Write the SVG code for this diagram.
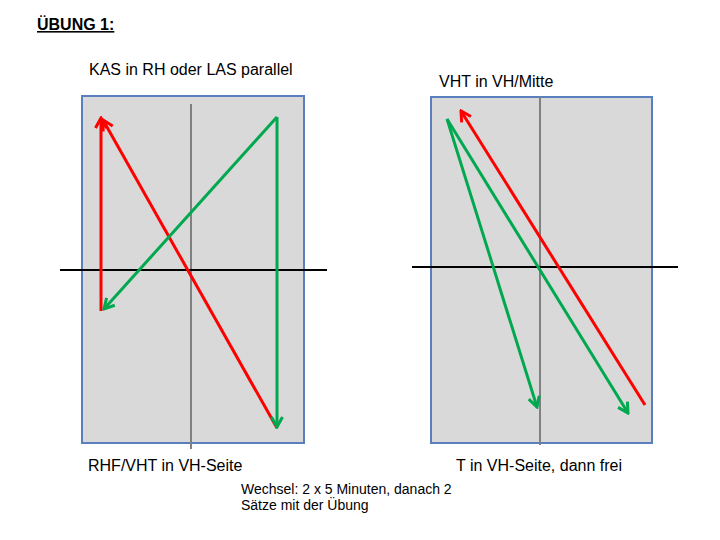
<svg xmlns="http://www.w3.org/2000/svg" width="720" height="540" viewBox="0 0 720 540">
<style>
text{font-family:"Liberation Sans",Arial,sans-serif;fill:#000}
.t{font-size:16px}
.s{font-size:14px}
.field{fill:#d9d9d9;stroke:#5a7fbe;stroke-width:2}
.axis{stroke:#808080;stroke-width:2}
.mid{stroke:#000;stroke-width:2}
.red{stroke:#ff0000;stroke-width:3;fill:none}
.green{stroke:#00a84f;stroke-width:3;fill:none}
</style>
<defs>
<marker id="ar" viewBox="0 0 14 14" refX="12" refY="7" markerWidth="14" markerHeight="14" markerUnits="userSpaceOnUse" orient="auto">
<path d="M2,1.5 L12,7 L2,12.5" fill="none" stroke="#ff0000" stroke-width="3"/>
</marker>
<marker id="ag" viewBox="0 0 14 14" refX="12" refY="7" markerWidth="14" markerHeight="14" markerUnits="userSpaceOnUse" orient="auto">
<path d="M2,1.5 L12,7 L2,12.5" fill="none" stroke="#00a84f" stroke-width="3"/>
</marker>
</defs>
<rect width="720" height="540" fill="#fff"/>
<g id="heading">
<text x="37" y="30" style="font-size:16px;font-weight:bold" text-decoration="underline">ÜBUNG 1:</text>
</g>
<g id="panel-left">
<text class="t" x="89" y="75">KAS in RH oder LAS parallel</text>
<rect class="field" x="82" y="96" width="222" height="347"/>
<line class="axis" x1="191" y1="104" x2="191" y2="449"/>
<line class="mid" x1="60" y1="270" x2="327" y2="270"/>
<text class="t" x="88" y="471">RHF/VHT in VH-Seite</text>
</g>
<g id="panel-right">
<text class="t" x="439" y="87">VHT in VH/Mitte</text>
<rect class="field" x="431" y="97" width="221" height="346"/>
<line class="axis" x1="540" y1="97" x2="540" y2="445"/>
<line class="mid" x1="412" y1="267" x2="678" y2="267"/>
<text class="t" x="456" y="471">T in VH-Seite, dann frei</text>
</g>
<g id="note">
<text class="s" x="241" y="494">Wechsel: 2 x 5 Minuten, danach 2</text>
<text class="s" x="241" y="510">Sätze mit der Übung</text>
</g>
<g id="connectors">
<line class="red" x1="101" y1="311" x2="101" y2="118" marker-end="url(#ar)"/>
<line class="red" x1="277" y1="428" x2="103" y2="120" marker-end="url(#ar)"/>
<line class="green" x1="277" y1="117" x2="104" y2="309" marker-end="url(#ag)"/>
<line class="green" x1="277" y1="117" x2="277" y2="427" marker-end="url(#ag)"/>
<line class="green" x1="447" y1="119" x2="537" y2="407" marker-end="url(#ag)"/>
<line class="green" x1="447" y1="119" x2="628" y2="413" marker-end="url(#ag)"/>
<line class="red" x1="645" y1="405" x2="461" y2="111" marker-end="url(#ar)"/>
</g>
</svg>
